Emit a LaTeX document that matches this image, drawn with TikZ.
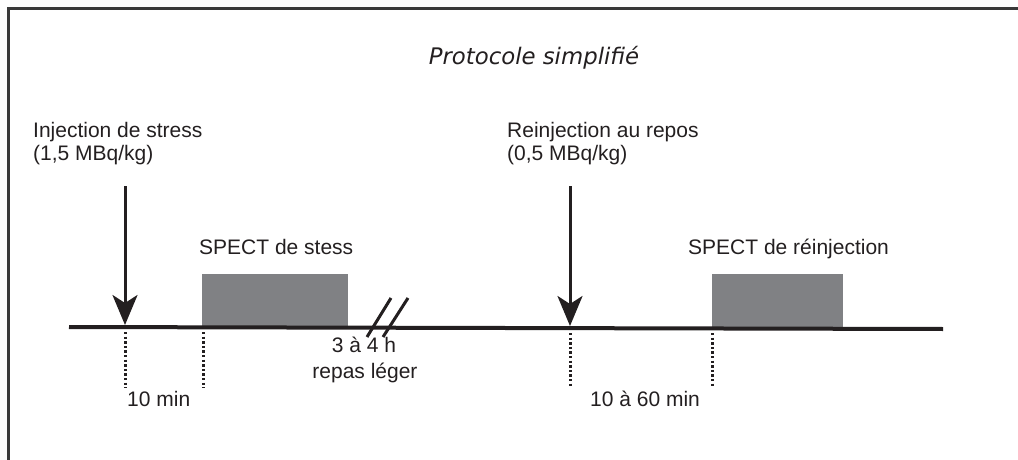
\documentclass[tikz,border=0pt]{standalone}
\usepackage{fontspec}
\setmainfont{Liberation Sans}
\newfontfamily\titlefont{DejaVu Sans}
\usetikzlibrary{arrows.meta}
\definecolor{ink}{HTML}{231F20}
\definecolor{boxgray}{HTML}{808184}
\definecolor{framegray}{HTML}{3A3A3A}
\tikzset{
  lbl/.style={inner sep=0pt, text=ink, font=\fontsize{21}{24}\selectfont},
  specbox/.style={fill=boxgray, draw=none, inner sep=0pt, anchor=south west},
  injarrow/.style={draw=ink, line width=3pt, -{Stealth[length=30pt, width=25pt, inset=8pt]}},
  timeline/.style={draw=ink, line width=4pt},
  guide/.style={draw=ink, line width=3pt, dash pattern=on 2.4pt off 2.2pt},
  breakmark/.style={draw=ink, line width=3pt}
}
\begin{document}
\begin{tikzpicture}[x=1pt,y=-1pt]
\useasboundingbox (0,0) rectangle (1018,460);
% frame
\draw[framegray, line width=3pt] (8,462) -- (8,9) -- (1020,9);
% title
\node[inner sep=0pt, text=ink, anchor=base, font=\titlefont\itshape\fontsize{22.8}{26}\selectfont] (title) at (534,65) {Protocole simplifié};
% SPECT boxes
\node[specbox, minimum width=146pt, minimum height=53pt] (box1) at (202,327) {};
\node[specbox, minimum width=131pt, minimum height=54pt] (box2) at (712,328) {};
% timeline
\coordinate (tlstart) at (69,327);
\coordinate (tlend) at (943,329);
\draw[timeline] (tlstart) -- (tlend);
% injection arrows
\coordinate (a1top) at (125,186);
\coordinate (a1tip) at (125,325);
\coordinate (a2top) at (570,186);
\coordinate (a2tip) at (570,326);
\draw[injarrow] (a1top) -- (a1tip);
\draw[injarrow] (a2top) -- (a2tip);
% dotted guides
\coordinate (d1t) at (125,332); \coordinate (d1b) at (125,388);
\coordinate (d2t) at (203,332); \coordinate (d2b) at (203,388);
\coordinate (d3t) at (570,333); \coordinate (d3b) at (570,388);
\coordinate (d4t) at (712,333); \coordinate (d4b) at (712,388);
\draw[guide] (d1t) -- (d1b);
\draw[guide] (d2t) -- (d2b);
\draw[guide] (d3t) -- (d3b);
\draw[guide] (d4t) -- (d4b);
% break marks
\coordinate (s1a) at (367,337); \coordinate (s1b) at (391,298);
\coordinate (s2a) at (383,337); \coordinate (s2b) at (408,298);
\draw[breakmark] (s1a) -- (s1b);
\draw[breakmark] (s2a) -- (s2b);
% labels
\node[lbl, anchor=base west] (inj1) at (33,137) {Injection de stress};
\node[lbl, anchor=base west] (inj1dose) at (33,160) {(1,5 MBq/kg)};
\node[lbl, anchor=base west] (inj2) at (507,137) {Reinjection au repos};
\node[lbl, anchor=base west] (inj2dose) at (507,160) {(0,5 MBq/kg)};
\node[lbl, anchor=base west] (spect1) at (199,254) {SPECT de stess};
\node[lbl, anchor=base west] (spect2) at (688,254) {SPECT de réinjection};
\node[lbl, anchor=base] (delay) at (364,352) {3 à 4 h};
\node[lbl, anchor=base] (meal) at (365,378) {repas léger};
\node[lbl, anchor=base west] (t1) at (127,406) {10 min};
\node[lbl, anchor=base west] (t2) at (590,406) {10 à 60 min};
\end{tikzpicture}
\end{document}
